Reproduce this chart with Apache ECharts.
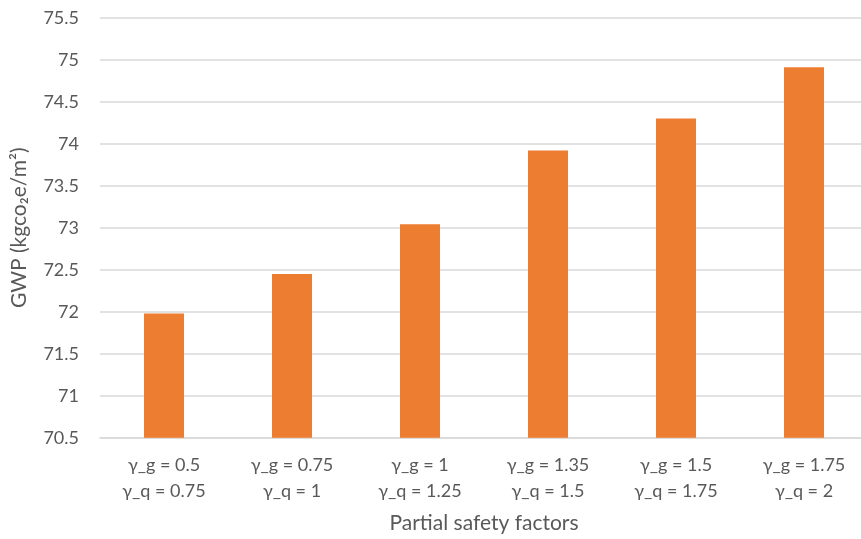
<!DOCTYPE html>
<html><head><meta charset="utf-8">
<script src="https://cdn.jsdelivr.net/npm/echarts@6/dist/echarts.min.js"></script>
<style>html,body{margin:0;padding:0;background:#fff}#c{width:861px;height:539px}</style>
</head><body><div id="c"></div>
<script>
const categories = ["γ_g = 0.5\nγ_q = 0.75","γ_g = 0.75\nγ_q = 1","γ_g = 1\nγ_q = 1.25","γ_g = 1.35\nγ_q = 1.5","γ_g = 1.5\nγ_q = 1.75","γ_g = 1.75\nγ_q = 2"];
const gwpValues = [71.98, 72.45, 73.04, 73.92, 74.30, 74.91];
const yTicks = {min: 70.5, max: 75.5, interval: 0.5};
const xTitle = "Partial safety factors";
const yTitle = "GWP (kgco₂e/m²)";

const chart = echarts.init(document.getElementById('c'), null, {renderer:'canvas'});
const font = "Lato, 'Open Sans', sans-serif";
chart.setOption({
  animation:false,
  grid:{left:100, top:17.7, width:768, height:420, containLabel:false, outerBoundsMode:'none'},
  xAxis:{type:'category', data:categories, name:xTitle, nameLocation:'middle', nameGap:75,
    nameTextStyle:{color:'#595959', fontSize:21, fontFamily:font},
    axisLine:{show:true, lineStyle:{color:'#D9D9D9', width:1.5}}, axisTick:{show:false},
    axisLabel:{color:'#595959', fontSize:18, fontFamily:font, lineHeight:26, margin:14, interval:0}},
  yAxis:{type:'value', min:yTicks.min, max:yTicks.max, interval:yTicks.interval,
    name:yTitle, nameLocation:'middle', nameGap:70, nameRotate:90,
    nameTextStyle:{color:'#595959', fontSize:21, fontFamily:font},
    axisLine:{show:false}, axisTick:{show:false},
    axisLabel:{color:'#595959', fontSize:18, fontFamily:font, margin:21},
    splitLine:{lineStyle:{color:'#D9D9D9', width:1.5}}},
  series:[{type:'bar', data:gwpValues, barWidth:40, itemStyle:{color:'#ED7D31'}}]
});
</script></body></html>
